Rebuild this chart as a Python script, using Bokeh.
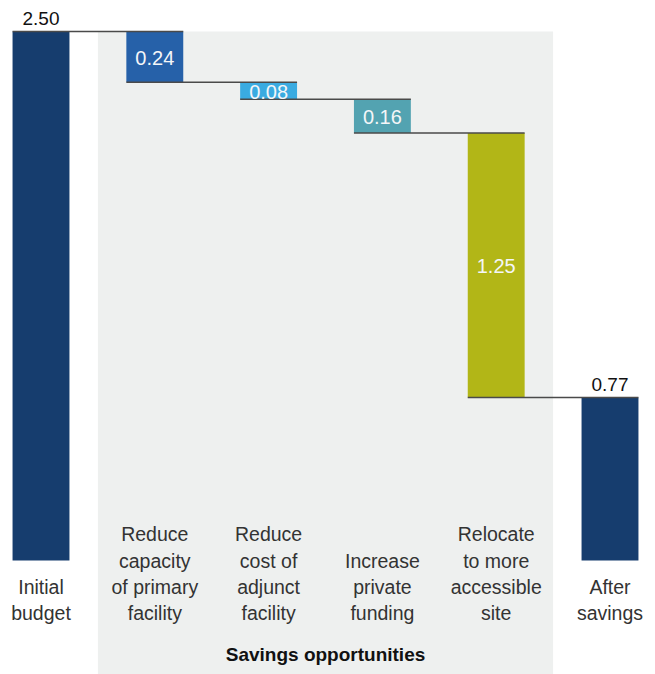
from bokeh.plotting import figure
from bokeh.models import Range1d, BoxAnnotation, ColumnDataSource
from bokeh.core.properties import value
from bokeh.embed import file_html
from bokeh.resources import INLINE

# Waterfall data ($ billions)
categories = [
    "Initial\nbudget",
    "Reduce\ncapacity\nof primary\nfacility",
    "Reduce\ncost of\nadjunct\nfacility",
    "Increase\nprivate\nfunding",
    "Relocate\nto more\naccessible\nsite",
    "After\nsavings",
]
values = [2.50, 0.24, 0.08, 0.16, 1.25, 0.77]
kinds = ["total", "step", "step", "step", "step", "total"]
colors = ["#163d6e", "#2661a9", "#3aabe1", "#53a3b1", "#b2b617", "#163d6e"]
group_label = "Savings opportunities"

FONT = "Liberation Sans"

# bar extents
xs = list(range(len(values)))
tops, bottoms = [], []
running = values[0]
for v, k in zip(values, kinds):
    if k == "total":
        tops.append(v)
        bottoms.append(0.0)
    else:
        tops.append(running)
        bottoms.append(running - v)
        running -= v

bar_w = 0.5
px_per_slot = 113.8
px_per_unit = 211.6
W, H = 655, 674
x0_px, base_px = 40.5, 560

p = figure(width=W, height=H, output_backend="svg", toolbar_location=None,
           min_border=0, min_border_left=0, min_border_right=0,
           min_border_top=0, min_border_bottom=0)
p.x_range = Range1d(-x0_px / px_per_slot, (W - x0_px) / px_per_slot)
p.y_range = Range1d(-(H - base_px) / px_per_unit, base_px / px_per_unit)
p.axis.visible = False
p.grid.visible = False
p.outline_line_color = None
p.background_fill_color = "white"
p.border_fill_color = "white"

# shaded panel behind the savings steps
p.add_layout(BoxAnnotation(left=0.5, right=len(values) - 1.5, top=values[0],
                           fill_color="#eef0ef", fill_alpha=1.0,
                           line_color=None, level="underlay"))

src = ColumnDataSource(dict(x=xs, top=tops, bottom=bottoms, color=colors))
p.vbar(x="x", width=bar_w, top="top", bottom="bottom", fill_color="color",
       line_color=None, source=src)

# connector lines: each level runs from one bar's left edge to the next bar's right edge
seg_x0, seg_x1, seg_y = [], [], []
for i in range(len(values) - 1):
    level = bottoms[i] if kinds[i] == "step" else tops[i]
    seg_x0.append(i - bar_w / 2)
    seg_x1.append(i + 1 + bar_w / 2)
    seg_y.append(level)
p.segment(x0=seg_x0, y0=seg_y, x1=seg_x1, y1=seg_y, line_color="#4a4a4a",
          line_width=1.5)

# value labels
in_x, in_y, in_t = [], [], []
out_x, out_y, out_t = [], [], []
for i, (v, k) in enumerate(zip(values, kinds)):
    if k == "step":
        in_x.append(i)
        in_y.append((tops[i] + bottoms[i]) / 2)
        in_t.append(f"{v:.2f}")
    else:
        out_x.append(i)
        out_y.append(tops[i])
        out_t.append(f"{v:.2f}")

p.text(x=in_x, y=in_y, text=in_t, text_color="#f4f6f8",
       text_font=value(FONT), text_font_size="20px",
       text_align="center", text_baseline="middle", y_offset=1)
p.text(x=out_x, y=out_y, text=out_t, text_color="#111111",
       text_font=value(FONT), text_font_size="19px",
       text_align="center", text_baseline="bottom", y_offset=-7)

# category labels, bottom-aligned under the bars
p.text(x=xs, y=[0] * len(xs), text=categories, text_color="#333333",
       text_font=value(FONT), text_font_size="19.5px",
       text_align="center", text_baseline="bottom",
       text_line_height=1.2, y_offset=64)

# group caption
p.text(x=[(len(values) - 1) / 2], y=[0], text=[group_label],
       text_color="#111111", text_font=value(FONT), text_font_size="19px",
       text_font_style="bold", text_align="center", text_baseline="middle",
       y_offset=94)

open("out.html", "w").write(file_html(p, INLINE))
